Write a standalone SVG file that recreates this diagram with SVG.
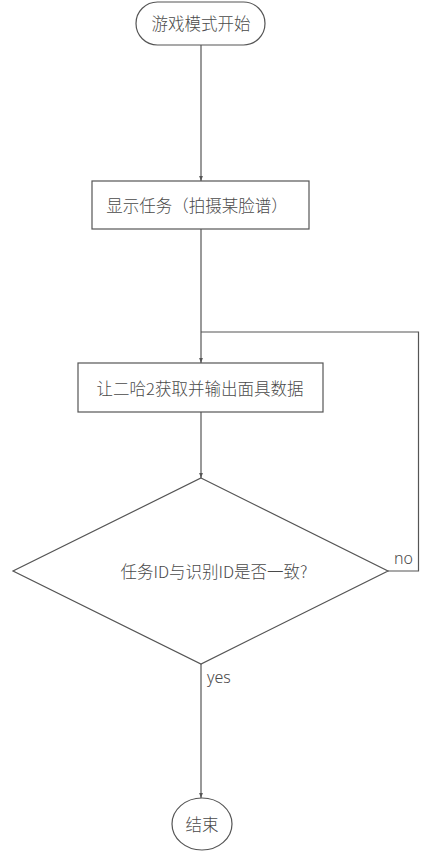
<svg xmlns="http://www.w3.org/2000/svg" width="444" height="865" viewBox="0 0 444 865">
<defs>
<marker id="arr" viewBox="0 0 8 8" refX="8" refY="4" markerWidth="5" markerHeight="5" orient="auto" markerUnits="userSpaceOnUse">
<path d="M0,1 L8,4 L0,7 Z" fill="#555"/>
</marker>
<style>
.s{fill:#fff;stroke:#555;stroke-width:1.2}
.t{font-family:"Microsoft YaHei","Noto Sans CJK SC","Noto Sans",sans-serif;font-size:16.5px;font-weight:300;fill:#4a4a4a;text-anchor:middle;dominant-baseline:central}
.l{fill:none;stroke:#555;stroke-width:1.2}
.lb{font-family:"Noto Sans","Liberation Sans",sans-serif;font-size:16px;font-weight:300;fill:#4a4a4a}
</style>
</defs>
<rect width="444" height="865" fill="#fff"/>
<g id="connectors">
<path class="l" d="M201,45 V181" marker-end="url(#arr)"/>
<path class="l" d="M201,229 V363" marker-end="url(#arr)"/>
<path class="l" d="M201,412 V478" marker-end="url(#arr)"/>
<path class="l" d="M388,571 H418.5 V332 H201"/>
<path class="l" d="M201,664 V798" marker-end="url(#arr)"/>
<text class="lb" x="394" y="564">no</text>
<text class="lb" x="207" y="683">yes</text>
</g>
<g id="start">
<rect class="s" x="136" y="2" width="129" height="43" rx="21.5"/>
<text class="t" x="201" y="23">游戏模式开始</text>
</g>
<g id="task">
<rect class="s" x="92" y="181" width="217" height="48"/>
<text class="t" x="197" y="205">显示任务（拍摄某脸谱）</text>
</g>
<g id="capture">
<rect class="s" x="78" y="363" width="245" height="49"/>
<text class="t" x="200" y="388">让二哈2获取并输出面具数据</text>
</g>
<g id="decision">
<path class="s" d="M201,478 L388,571 L201,664 L13,571 Z"/>
<text class="t" x="214" y="571">任务ID与识别ID是否一致?</text>
</g>
<g id="end">
<ellipse class="s" cx="202" cy="824" rx="30" ry="26"/>
<text class="t" x="202" y="824">结束</text>
</g>
</svg>
